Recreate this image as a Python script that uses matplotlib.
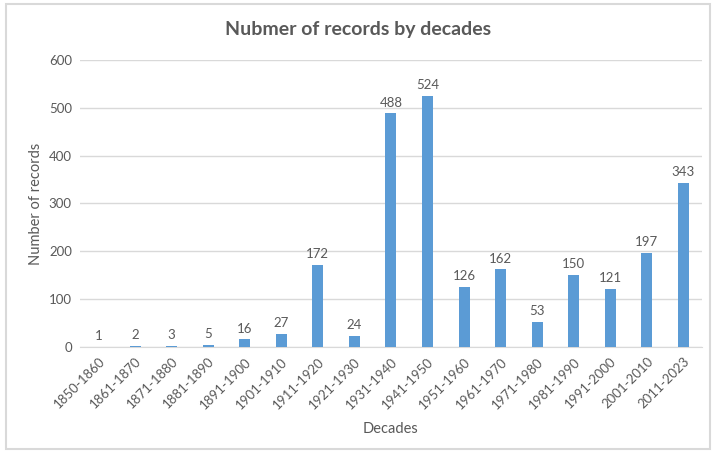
import matplotlib
matplotlib.use("Agg")
import matplotlib.pyplot as plt
from matplotlib.patches import Rectangle

decades = ["1850-1860", "1861-1870", "1871-1880", "1881-1890", "1891-1900",
           "1901-1910", "1911-1920", "1921-1930", "1931-1940", "1941-1950",
           "1951-1960", "1961-1970", "1971-1980", "1981-1990", "1991-2000",
           "2001-2010", "2011-2023"]
records = [1, 2, 3, 5, 16, 27, 172, 24, 488, 524, 126, 162, 53, 150, 121, 197, 343]
yticks = [0, 100, 200, 300, 400, 500, 600]

plt.rcParams['font.family'] = ['Lato', 'DejaVu Sans']
txt = '#595959'

fig = plt.figure(figsize=(7.16, 4.53), dpi=100)
fig.patches.append(Rectangle((0.008, 0.008), 0.984, 0.984, transform=fig.transFigure,
                             facecolor='white', edgecolor='#D9D9D9', linewidth=1.5, zorder=-1))
ax = fig.add_axes([0.112, 0.234, 0.868, 0.634])
x = list(range(len(decades)))
bars = ax.bar(x, records, width=0.3, color='#5B9BD5', zorder=3)
for xi, v in zip(x, records):
    ax.text(xi, v + 10, str(v), ha='center', va='bottom', fontsize=9.5, color=txt)

ax.set_xlim(-0.5, len(decades) - 0.5)
ax.set_ylim(0, 600)
ax.set_yticks(yticks)
ax.set_yticklabels([str(t) for t in yticks], fontsize=9.5, color=txt)
ax.set_xticks(x)
ax.set_xticklabels(decades, rotation=45, ha='right', rotation_mode='anchor', fontsize=9.5, color=txt)
ax.tick_params(axis='both', length=0, pad=6)
ax.grid(axis='y', color='#D9D9D9', linewidth=1, zorder=0)
for s in ['top', 'right', 'left']:
    ax.spines[s].set_visible(False)
ax.spines['bottom'].set_color('#D9D9D9')
ax.set_xlabel('Decades', fontsize=10.5, color=txt, labelpad=8)
ax.set_ylabel('Number of records', fontsize=10.5, color=txt, labelpad=4)
fig.text(0.5, 0.935, 'Nubmer of records by decades', ha='center', va='center',
         fontsize=14, fontweight='bold', color=txt)

fig.savefig('out.png', dpi=100)
